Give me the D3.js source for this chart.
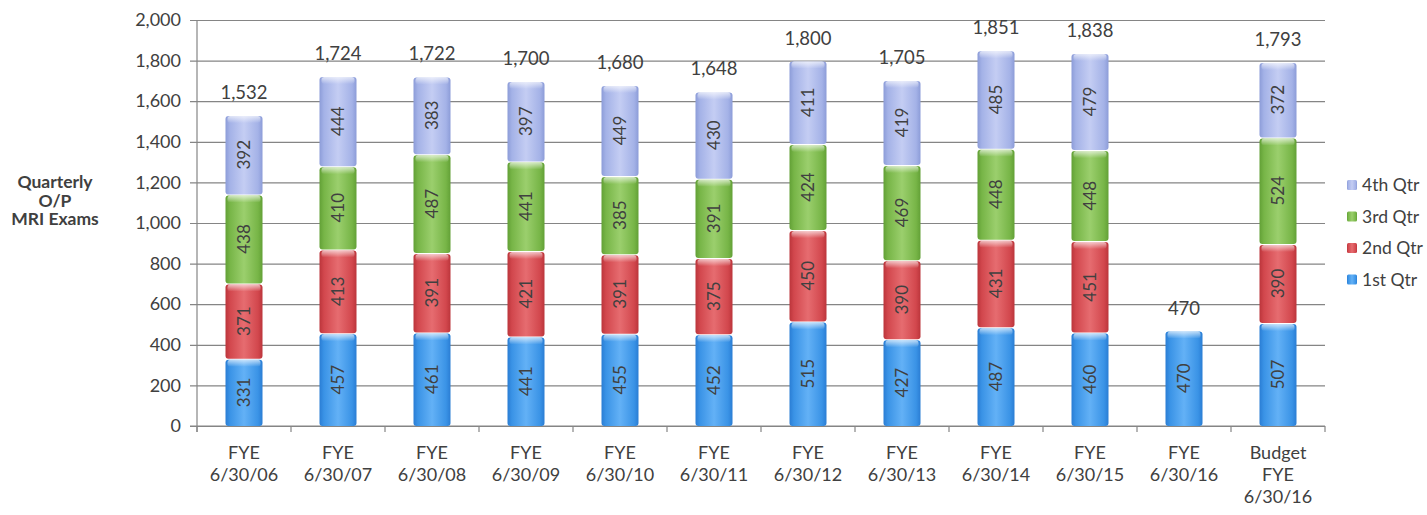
<!DOCTYPE html>
<html>
<head>
<meta charset="utf-8">
<script src="https://cdn.jsdelivr.net/npm/d3@7/dist/d3.min.js"></script>
<style>
  html, body { margin: 0; padding: 0; background: #ffffff; }
  svg { display: block; }
  text { font-family: Lato, "Open Sans", sans-serif; fill: #404040; }
</style>
</head>
<body>
<svg id="chart" width="1427" height="515"></svg>
<script>
// Fiscal years shown along the x axis (each entry is one line of the label)
const categories = [
  ["FYE", "6/30/06"], ["FYE", "6/30/07"], ["FYE", "6/30/08"], ["FYE", "6/30/09"],
  ["FYE", "6/30/10"], ["FYE", "6/30/11"], ["FYE", "6/30/12"], ["FYE", "6/30/13"],
  ["FYE", "6/30/14"], ["FYE", "6/30/15"], ["FYE", "6/30/16"], ["Budget", "FYE", "6/30/16"]
];

// Quarterly outpatient MRI exam counts
const q1 = [331, 457, 461, 441, 455, 452, 515, 427, 487, 460, 470, 507];
const q2 = [371, 413, 391, 421, 391, 375, 450, 390, 431, 451, null, 390];
const q3 = [438, 410, 487, 441, 385, 391, 424, 469, 448, 448, null, 524];
const q4 = [392, 444, 383, 397, 449, 430, 411, 419, 485, 479, null, 372];

const seriesNames = ["1st Qtr", "2nd Qtr", "3rd Qtr", "4th Qtr"];
const yTicks = [0, 200, 400, 600, 800, 1000, 1200, 1400, 1600, 1800, 2000];

const svg = d3.select("#chart");
const plotLeft = 197, plotRight = 1325, plotTop = 20, plotBottom = 426;

const x = d3.scaleBand().domain(d3.range(categories.length)).range([plotLeft, plotRight]).paddingInner(0).paddingOuter(0);
const y = d3.scaleLinear().domain([0, 2000]).range([plotBottom, plotTop]);
const barW = 37;

const palette = [
  { dark: "#2a7dd4", base: "#3a93e6", light: "#63b1f6" },
  { dark: "#bb353b", base: "#d2474d", light: "#e66c70" },
  { dark: "#62a036", base: "#77b547", light: "#9bcf6d" },
  { dark: "#8c9cd8", base: "#a4b2e7", light: "#c4cdf3" }
];

// Gradients giving the bars their rounded, glossy look
const defs = svg.append("defs");
palette.forEach((c, i) => {
  const g = defs.append("linearGradient").attr("id", "fill" + i)
    .attr("x1", "0").attr("x2", "1").attr("y1", "0").attr("y2", "0");
  [[0, c.dark], [0.12, c.base], [0.5, c.light], [0.88, c.base], [1, c.dark]]
    .forEach(([o, col]) => g.append("stop").attr("offset", o).attr("stop-color", col));
});
const cap = defs.append("linearGradient").attr("id", "cap")
  .attr("x1", "0").attr("x2", "0").attr("y1", "0").attr("y2", "1");
cap.append("stop").attr("offset", 0).attr("stop-color", "#ffffff").attr("stop-opacity", 0.65);
cap.append("stop").attr("offset", 1).attr("stop-color", "#ffffff").attr("stop-opacity", 0);

// Gridlines with ticks poking out left of the axis
const yAxis = d3.axisLeft(y).tickValues(yTicks).tickSize(-(plotRight - plotLeft + 7)).tickPadding(9)
  .tickFormat(d3.format(","));
const yg = svg.append("g").attr("transform", `translate(${plotLeft - 7},0)`).call(yAxis);
yg.select(".domain").remove();
yg.selectAll(".tick line").attr("stroke", "#858585").attr("stroke-width", 1.2);
yg.selectAll(".tick text").style("font-size", "18px").attr("fill", "#404040");

// Vertical axis line
svg.append("line").attr("x1", plotLeft).attr("x2", plotLeft).attr("y1", plotTop).attr("y2", plotBottom + 6)
  .attr("stroke", "#858585").attr("stroke-width", 1.2);

// Category axis with tick marks on the band boundaries
const xg = svg.append("g").attr("transform", `translate(0,${plotBottom})`);
xg.append("line").attr("x1", plotLeft - 7).attr("x2", plotRight).attr("stroke", "#858585").attr("stroke-width", 1.2);
xg.selectAll(".xt").data(d3.range(categories.length + 1)).join("line")
  .attr("x1", i => plotLeft + i * x.bandwidth()).attr("x2", i => plotLeft + i * x.bandwidth())
  .attr("y1", 0).attr("y2", 6).attr("stroke", "#858585").attr("stroke-width", 1.2);
xg.selectAll(".xl").data(categories).join("text")
  .attr("x", (d, i) => x(i) + x.bandwidth() / 2)
  .attr("text-anchor", "middle")
  .style("font-size", "18px")
  .each(function (lines) {
    const cx = d3.select(this).attr("x");
    d3.select(this).selectAll("tspan").data(lines).join("tspan")
      .attr("x", cx)
      .attr("y", (l, k) => 33 + k * 22)
      .text(l => l);
  });

// Stack the quarters
const rows = categories.map((c, i) => ({ i, q: [q1[i], q2[i], q3[i], q4[i]] }));
const segs = [];
rows.forEach(r => {
  let acc = 0;
  r.q.forEach((v, s) => {
    if (v == null) return;
    segs.push({ i: r.i, s, v, y0: acc, y1: acc + v });
    acc += v;
  });
  r.total = acc;
});

const bars = svg.append("g");
const segG = bars.selectAll("g.seg").data(segs).join("g").attr("class", "seg");
segG.append("rect")
  .attr("x", d => x(d.i) + x.bandwidth() / 2 - barW / 2)
  .attr("y", d => y(d.y1) + 1)
  .attr("width", barW)
  .attr("height", d => y(d.y0) - y(d.y1) - 1)
  .attr("rx", 3)
  .attr("fill", d => `url(#fill${d.s})`);
segG.append("rect")
  .attr("x", d => x(d.i) + x.bandwidth() / 2 - barW / 2 + 2)
  .attr("y", d => y(d.y1) + 1)
  .attr("width", barW - 4)
  .attr("height", 7)
  .attr("rx", 3)
  .attr("fill", "url(#cap)");

// Values written up the middle of each segment
segG.append("text")
  .attr("transform", d => `translate(${x(d.i) + x.bandwidth() / 2},${y((d.y0 + d.y1) / 2)}) rotate(-90)`)
  .attr("text-anchor", "middle")
  .attr("dy", "0.35em")
  .style("font-size", "17px")
  .attr("fill", "#3a3a3a")
  .text(d => d.v);

// Totals above each bar
svg.append("g").selectAll("text").data(rows).join("text")
  .attr("x", d => x(d.i) + x.bandwidth() / 2)
  .attr("y", d => y(d.total) - 16)
  .attr("text-anchor", "middle")
  .style("font-size", "18.5px")
  .text(d => d3.format(",")(d.total));

// Y-axis title
const yt = svg.append("text").attr("text-anchor", "middle").style("font-size", "17.5px").style("font-weight", "bold");
["Quarterly", "O/P", "MRI Exams"].forEach((l, k) =>
  yt.append("tspan").attr("x", 55).attr("y", 188 + k * 18.5).text(l));

// Legend, top series first
const legend = svg.append("g");
[3, 2, 1, 0].forEach((s, k) => {
  const ly = 185 + k * 31.5;
  legend.append("rect").attr("x", 1347).attr("y", ly - 5).attr("width", 10).attr("height", 10)
    .attr("rx", 1.5).attr("fill", `url(#fill${s})`);
  legend.append("text").attr("x", 1362).attr("y", ly).attr("dy", "0.35em")
    .style("font-size", "17.5px").text(seriesNames[s]);
});
</script>
</body>
</html>
